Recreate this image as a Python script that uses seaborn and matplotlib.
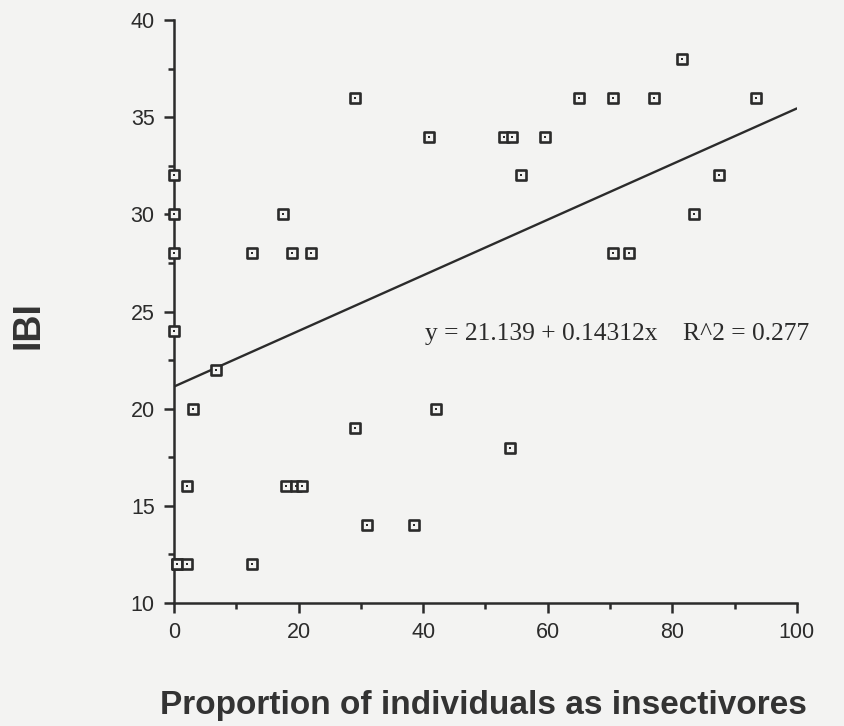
import numpy as np
import pandas as pd
import matplotlib
matplotlib.use("Agg")
import matplotlib.pyplot as plt
from matplotlib.ticker import MultipleLocator
import seaborn as sns

# Data
insectivores = [0.5, 0, 0, 0, 0, 2, 0.5, 2, 3, 6.7, 12.5, 12.5, 17.5, 18, 19.5, 20.5,
                19, 22, 29, 29, 31, 38.5, 41, 42, 53, 54.3, 54, 55.7, 59.5, 65,
                70.5, 70.5, 73, 77, 81.5, 83.5, 87.5, 93.5]
ibi = [12, 24, 28, 30, 32, 16, 12, 12, 20, 22, 28, 12, 30, 16, 16, 16,
       28, 28, 36, 19, 14, 14, 34, 20, 34, 34, 18, 32, 34, 36,
       36, 28, 28, 36, 38, 30, 32, 36]
intercept = 21.139
slope = 0.14312
r_squared = 0.277

df = pd.DataFrame({"insectivores": insectivores, "IBI": ibi})

sns.set_style("ticks")
plt.rcParams["font.family"] = ["Liberation Sans", "DejaVu Sans"]

bg = "#f3f3f2"
ink = "#2b2b2b"

fig = plt.figure(figsize=(8.45, 7.26), dpi=100, facecolor=bg)
ax = fig.add_axes([0.206, 0.1694, 0.737, 0.803], facecolor=bg)

# square markers with a dot in the middle
sns.scatterplot(data=df, x="insectivores", y="IBI", ax=ax, marker="s", s=46,
                facecolor=bg, edgecolor=ink, linewidth=1.9, clip_on=False, zorder=3)
sns.scatterplot(data=df, x="insectivores", y="IBI", ax=ax, marker="s", s=2.5,
                color=ink, edgecolor=ink, linewidth=0, clip_on=False, zorder=4)

# regression line
xs = np.array([0, 100])
ax.plot(xs, intercept + slope * xs, color=ink, linewidth=1.7, zorder=2)

ax.text(40.3, 23.53, f"y = {intercept} + {slope}x    R^2 = {r_squared}",
        family=["Liberation Serif", "DejaVu Serif"], fontsize=18.4, color=ink,
        va="baseline", ha="left")

ax.set_xlim(0, 100)
ax.set_ylim(10, 40)
ax.xaxis.set_major_locator(MultipleLocator(20))
ax.xaxis.set_minor_locator(MultipleLocator(10))
ax.yaxis.set_major_locator(MultipleLocator(5))
ax.yaxis.set_minor_locator(MultipleLocator(2.5))

sns.despine(ax=ax)
for side in ("left", "bottom"):
    ax.spines[side].set_linewidth(1.8)
    ax.spines[side].set_color(ink)

ax.tick_params(which="major", length=7, width=1.8, color=ink, labelsize=15.5,
               labelcolor=ink)
ax.tick_params(axis="x", which="major", pad=7)
ax.tick_params(axis="y", which="major", pad=7)
ax.tick_params(which="minor", length=4, width=1.8, color=ink)

ax.set_xlabel("Proportion of individuals as insectivores", fontsize=24,
              fontweight="bold", color="#333333")
ax.xaxis.set_label_coords(0.496, -0.175)
ax.xaxis.label.set_va("center")

ax.set_ylabel("IBI", fontsize=27, fontweight="bold", color="#333333")
ax.yaxis.set_label_coords(-0.234, 0.477)
ax.yaxis.label.set_va("center")

fig.savefig("out.png", dpi=100, facecolor=bg)
